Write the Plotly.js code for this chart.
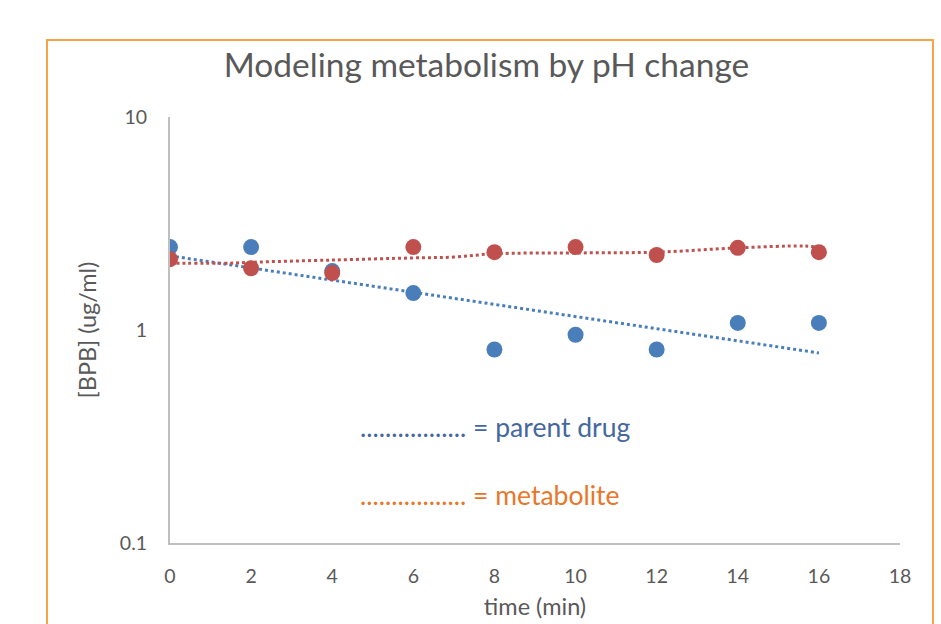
<!DOCTYPE html>
<html>
<head>
<meta charset="utf-8">
<script src="https://cdn.plot.ly/plotly-3.0.1.min.js"></script>
<style>
html,body{margin:0;padding:0;background:#fff;overflow:hidden;}
#chart{width:941px;height:624px;}
#frame{position:absolute;left:46px;top:39px;width:884px;height:600px;border:2px solid #F6A445;pointer-events:none;}
</style>
</head>
<body>
<div id="chart"></div>
<div id="frame"></div>
<script>
// time points (min)
const time = [0, 2, 4, 6, 8, 10, 12, 14, 16];
// parent drug [BPB] (ug/ml)
const parentDrug = [2.45, 2.45, 1.89, 1.49, 0.81, 0.95, 0.81, 1.08, 1.08];
// metabolite [BPB] (ug/ml)
const metabolite = [2.15, 1.95, 1.85, 2.45, 2.32, 2.45, 2.25, 2.43, 2.32];
// trendlines
const parentTrendX = [0, 16];
const parentTrendY = [2.23, 0.78];
const metabTrendX = [0, 1.5, 2, 4, 6, 7, 8, 10, 12, 14, 15.6, 16];
const metabTrendY = [2.06, 2.06, 2.08, 2.13, 2.18, 2.2, 2.28, 2.3, 2.32, 2.43, 2.48, 2.45];
// axis ticks
const xTicks = [0, 2, 4, 6, 8, 10, 12, 14, 16, 18];
const yTicks = [0.1, 1, 10];
const yTickText = ['0.1', '1', '10'];

const blue = '#4A7EBB';
const red = '#C0504D';
const font = 'Lato, "Open Sans", sans-serif';
const grey = '#595959';

const traces = [
  {x: parentTrendX, y: parentTrendY, mode: 'lines', line: {color: blue, width: 3, dash: 'dot'}, hoverinfo: 'skip'},
  {x: metabTrendX, y: metabTrendY, mode: 'lines', line: {color: red, width: 3, dash: 'dot', shape: 'spline'}, hoverinfo: 'skip'},
  {x: time, y: parentDrug, mode: 'markers', marker: {color: blue, size: 16}},
  {x: time, y: metabolite, mode: 'markers', marker: {color: red, size: 16}}
];

const layout = {
  width: 941, height: 624,
  margin: {l: 170, r: 41, t: 117, b: 81},
  paper_bgcolor: '#fff', plot_bgcolor: '#fff',
  showlegend: false,
  font: {family: font, color: grey, size: 16},
  title: {text: 'Modeling metabolism by pH change', font: {family: font, size: 33.5, color: grey},
          x: 0.517, xanchor: 'center', y: 1 - 65/624, yanchor: 'middle'},
  xaxis: {
    range: [0, 18], tickvals: xTicks, showgrid: false, zeroline: false,
    showline: true, linecolor: '#BFBFBF', linewidth: 2, ticks: '',
    tickfont: {family: font, size: 19.5, color: grey}, ticklabelstandoff: 15,
    title: {text: 'time (min)', font: {family: font, size: 23.5, color: grey}, standoff: 12}
  },
  yaxis: {
    type: 'log', range: [-1, 1], tickvals: yTicks, ticktext: yTickText,
    showgrid: false, zeroline: false, showline: true, linecolor: '#BFBFBF', linewidth: 2, ticks: '',
    tickfont: {family: font, size: 19.5, color: grey}, ticklabelstandoff: 17,
    title: {text: '[BPB] (ug/ml)', font: {family: font, size: 23.5, color: grey}, standoff: 17}
  },
  annotations: [
    {xref: 'paper', yref: 'paper', x: (358-170)/730, y: (543-427)/426, xanchor: 'left', yanchor: 'middle', showarrow: false,
     text: '................. = parent drug', font: {family: font, size: 26.5, color: '#44689E'}},
    {xref: 'paper', yref: 'paper', x: (358-170)/730, y: (543-495)/426, xanchor: 'left', yanchor: 'middle', showarrow: false,
     text: '................. = metabolite', font: {family: font, size: 26.5, color: '#E8772A'}}
  ]
};

Plotly.newPlot('chart', traces, layout, {displayModeBar: false, staticPlot: true});
</script>
</body>
</html>
